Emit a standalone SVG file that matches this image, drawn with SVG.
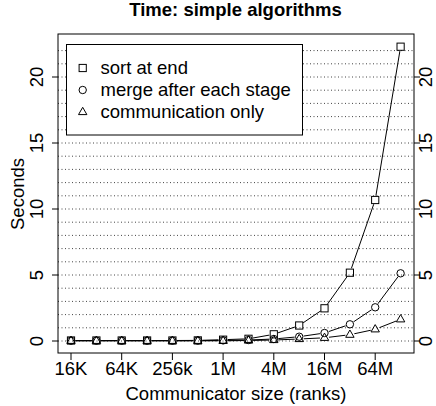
<svg xmlns="http://www.w3.org/2000/svg" xmlns:xlink="http://www.w3.org/1999/xlink" width="436" height="406" viewBox="0 0 436 406">
<style>
text{font-family:"Liberation Sans",Arial,Helvetica,sans-serif;font-size:18.5px;fill:#000}
.title{font-weight:bold;text-anchor:middle}
.mid{text-anchor:middle}
.grid{stroke:#444;stroke-width:1;stroke-dasharray:1 2.5;fill:none}
.ax{stroke:#000;stroke-width:1;fill:none}
.ser{stroke:#000;stroke-width:1;fill:none}
.sym{stroke:#000;stroke-width:1;fill:none}
</style>
<defs>
<rect id="sq" x="-3.6" y="-3.6" width="7.2" height="7.2"/>
<circle id="ci" r="3.7"/>
<path id="tri" d="M0,-4.7 L4.2,2.6 L-4.2,2.6 Z"/>
<mask id="mSq" maskUnits="userSpaceOnUse" x="0" y="0" width="436" height="406">
<rect width="436" height="406" fill="#fff"/>
<g fill="#000"><circle cx="71" cy="340.5" r="4.6"/><circle cx="96.4" cy="340.5" r="4.6"/><circle cx="121.7" cy="340.5" r="4.6"/><circle cx="147.1" cy="340.5" r="4.6"/><circle cx="172.4" cy="340.5" r="4.6"/><circle cx="197.8" cy="340.4" r="4.6"/><circle cx="223.1" cy="339.7" r="4.6"/><circle cx="248.5" cy="338.8" r="4.6"/><circle cx="273.8" cy="334.3" r="4.6"/><circle cx="299.2" cy="325.5" r="4.6"/><circle cx="324.5" cy="308.3" r="4.6"/><circle cx="349.9" cy="272.7" r="4.6"/><circle cx="375.2" cy="200" r="4.6"/><circle cx="400.6" cy="46.7" r="4.6"/></g>
</mask>
<mask id="mCi" maskUnits="userSpaceOnUse" x="0" y="0" width="436" height="406">
<rect width="436" height="406" fill="#fff"/>
<g fill="#000"><circle cx="71" cy="340.7" r="4.6"/><circle cx="96.4" cy="340.7" r="4.6"/><circle cx="121.7" cy="340.7" r="4.6"/><circle cx="147.1" cy="340.7" r="4.6"/><circle cx="172.4" cy="340.7" r="4.6"/><circle cx="197.8" cy="340.6" r="4.6"/><circle cx="223.1" cy="340.4" r="4.6"/><circle cx="248.5" cy="340" r="4.6"/><circle cx="273.8" cy="339" r="4.6"/><circle cx="299.2" cy="336.7" r="4.6"/><circle cx="324.5" cy="333" r="4.6"/><circle cx="349.9" cy="324.3" r="4.6"/><circle cx="375.2" cy="307.3" r="4.6"/><circle cx="400.6" cy="273.3" r="4.6"/></g>
</mask>
<mask id="mTr" maskUnits="userSpaceOnUse" x="0" y="0" width="436" height="406">
<rect width="436" height="406" fill="#fff"/>
<g fill="#000"><circle cx="71" cy="340.8" r="4.6"/><circle cx="96.4" cy="340.8" r="4.6"/><circle cx="121.7" cy="340.8" r="4.6"/><circle cx="147.1" cy="340.8" r="4.6"/><circle cx="172.4" cy="340.8" r="4.6"/><circle cx="197.8" cy="340.8" r="4.6"/><circle cx="223.1" cy="340.8" r="4.6"/><circle cx="248.5" cy="340.5" r="4.6"/><circle cx="273.8" cy="340" r="4.6"/><circle cx="299.2" cy="339" r="4.6"/><circle cx="324.5" cy="337.8" r="4.6"/><circle cx="349.9" cy="334.7" r="4.6"/><circle cx="375.2" cy="329.3" r="4.6"/><circle cx="400.6" cy="319.3" r="4.6"/></g>
</mask>
</defs>
<rect width="436" height="406" fill="#fff"/>
<text class="title" x="235.5" y="16">Time: simple algorithms</text>
<g id="grid">
<path class="grid" d="M58,341H414M58,327.8H414M58,314.6H414M58,301.4H414M58,288.2H414M58,275H414M58,261.8H414M58,248.6H414M58,235.4H414M58,222.2H414M58,209H414M58,195.8H414M58,182.6H414M58,169.4H414M58,156.2H414M58,143H414M58,129.8H414M58,116.6H414M58,103.4H414M58,90.2H414M58,77H414M58,63.8H414M58,50.6H414"/>
</g>
<g id="axes">
<rect class="ax" x="58" y="34" width="356" height="319"/>
<path class="ax" d="M52,341H58M52,275H58M52,209H58M52,143H58M52,77H58M414,341H420M414,275H420M414,209H420M414,143H420M414,77H420M71,353V360M121.7,353V360M172.4,353V360M223.1,353V360M273.8,353V360M324.5,353V360M375.2,353V360"/>
<g class="mid">
<text transform="translate(43,341) rotate(-90)">0</text>
<text transform="translate(43,275) rotate(-90)">5</text>
<text transform="translate(43,209) rotate(-90)">10</text>
<text transform="translate(43,143) rotate(-90)">15</text>
<text transform="translate(43,77) rotate(-90)">20</text>
<text transform="translate(432,341) rotate(-90)">0</text>
<text transform="translate(432,275) rotate(-90)">5</text>
<text transform="translate(432,209) rotate(-90)">10</text>
<text transform="translate(432,143) rotate(-90)">15</text>
<text transform="translate(432,77) rotate(-90)">20</text>
<text x="71" y="375">16K</text>
<text x="121.7" y="375">64K</text>
<text x="172.4" y="375">256k</text>
<text x="223.1" y="375">1M</text>
<text x="273.8" y="375">4M</text>
<text x="324.5" y="375">16M</text>
<text x="375.2" y="375">64M</text>
<text x="236" y="400">Communicator size (ranks)</text>
<text transform="translate(24,194) rotate(-90)">Seconds</text>
</g>
</g>
<g id="connectors">
<polyline class="ser" mask="url(#mSq)" points="71,340.5 96.4,340.5 121.7,340.5 147.1,340.5 172.4,340.5 197.8,340.4 223.1,339.7 248.5,338.8 273.8,334.3 299.2,325.5 324.5,308.3 349.9,272.7 375.2,200 400.6,46.7"/>
<polyline class="ser" mask="url(#mCi)" points="71,340.7 96.4,340.7 121.7,340.7 147.1,340.7 172.4,340.7 197.8,340.6 223.1,340.4 248.5,340 273.8,339 299.2,336.7 324.5,333 349.9,324.3 375.2,307.3 400.6,273.3"/>
<polyline class="ser" mask="url(#mTr)" points="71,340.8 96.4,340.8 121.7,340.8 147.1,340.8 172.4,340.8 197.8,340.8 223.1,340.8 248.5,340.5 273.8,340 299.2,339 324.5,337.8 349.9,334.7 375.2,329.3 400.6,319.3"/>
</g>
<g id="sort-at-end" class="sym">
<use href="#sq" x="71" y="340.5"/><use href="#sq" x="96.4" y="340.5"/><use href="#sq" x="121.7" y="340.5"/><use href="#sq" x="147.1" y="340.5"/><use href="#sq" x="172.4" y="340.5"/><use href="#sq" x="197.8" y="340.4"/><use href="#sq" x="223.1" y="339.7"/><use href="#sq" x="248.5" y="338.8"/><use href="#sq" x="273.8" y="334.3"/><use href="#sq" x="299.2" y="325.5"/><use href="#sq" x="324.5" y="308.3"/><use href="#sq" x="349.9" y="272.7"/><use href="#sq" x="375.2" y="200"/><use href="#sq" x="400.6" y="46.7"/>
</g>
<g id="merge-after-each-stage" class="sym">
<use href="#ci" x="71" y="340.7"/><use href="#ci" x="96.4" y="340.7"/><use href="#ci" x="121.7" y="340.7"/><use href="#ci" x="147.1" y="340.7"/><use href="#ci" x="172.4" y="340.7"/><use href="#ci" x="197.8" y="340.6"/><use href="#ci" x="223.1" y="340.4"/><use href="#ci" x="248.5" y="340"/><use href="#ci" x="273.8" y="339"/><use href="#ci" x="299.2" y="336.7"/><use href="#ci" x="324.5" y="333"/><use href="#ci" x="349.9" y="324.3"/><use href="#ci" x="375.2" y="307.3"/><use href="#ci" x="400.6" y="273.3"/>
</g>
<g id="communication-only" class="sym">
<use href="#tri" x="71" y="340.8"/><use href="#tri" x="96.4" y="340.8"/><use href="#tri" x="121.7" y="340.8"/><use href="#tri" x="147.1" y="340.8"/><use href="#tri" x="172.4" y="340.8"/><use href="#tri" x="197.8" y="340.8"/><use href="#tri" x="223.1" y="340.8"/><use href="#tri" x="248.5" y="340.5"/><use href="#tri" x="273.8" y="340"/><use href="#tri" x="299.2" y="339"/><use href="#tri" x="324.5" y="337.8"/><use href="#tri" x="349.9" y="334.7"/><use href="#tri" x="375.2" y="329.3"/><use href="#tri" x="400.6" y="319.3"/>
</g>
<g id="legend">
<rect x="66.5" y="44.5" width="236" height="90.5" fill="#fff" stroke="#000" stroke-width="1"/>
<g class="sym">
<use href="#sq" x="82.7" y="68"/>
<use href="#ci" x="82.7" y="90"/>
<use href="#tri" x="82.7" y="112"/>
</g>
<text x="100.5" y="73.5">sort at end</text>
<text x="100.5" y="95.8">merge after each stage</text>
<text x="100.5" y="118.2">communication only</text>
</g>
</svg>
